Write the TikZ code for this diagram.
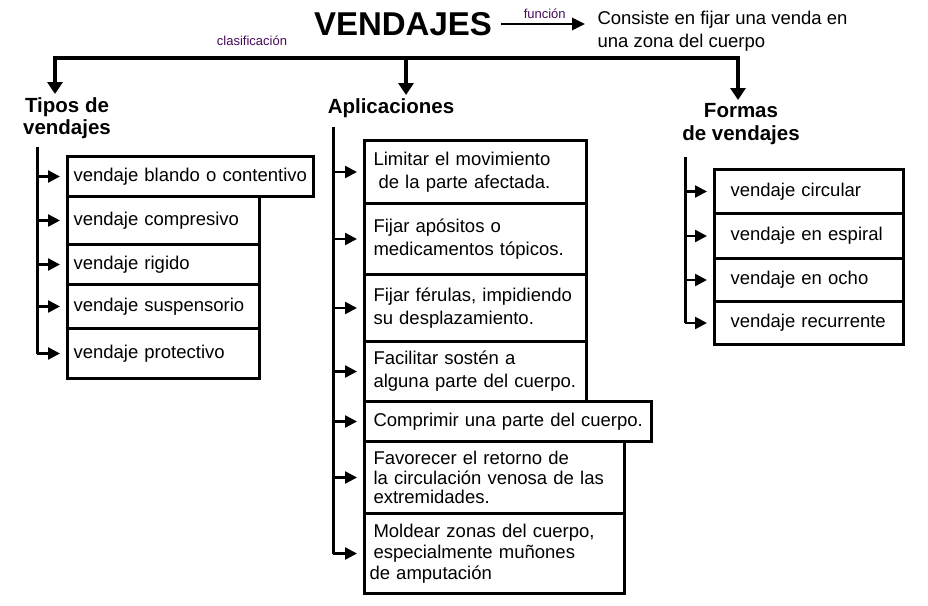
\documentclass[tikz,border=0pt]{standalone}
\usepackage{fontspec}
\setmainfont{Liberation Sans}
\usetikzlibrary{arrows.meta, positioning}
\definecolor{lblpurple}{RGB}{70,10,90}

\begin{document}
\begin{tikzpicture}[x=1pt, y=-1pt,
      every node/.style={font=\fontsize{18.5}{23}\selectfont},
      title/.style={font=\fontsize{33}{40}\selectfont\bfseries},
      head/.style={font=\fontsize{20.5}{22.5}\selectfont\bfseries, align=center, anchor=north},
      tag/.style={font=\fontsize{13}{15}\selectfont, text=lblpurple},
      box/.style={draw, line width=3pt, anchor=north west, align=left, inner ysep=0pt},
      tbox/.style={box, inner xsep=6pt},
      mbox/.style={box, inner xsep=9pt},
      fbox/.style={box, inner xsep=16pt},
      trunk/.style={line width=3pt},
      stub/.style={-{Triangle[length=12pt, width=12pt]}, line width=2.5pt, shorten >=6pt},
      drop/.style={{Triangle[length=12pt, width=15pt]}-{Triangle[length=12pt, width=15pt]}, line width=4pt},
      dropone/.style={-{Triangle[length=12pt, width=15pt]}, line width=4pt},
      arrow/.style={-{Triangle[length=13pt, width=12pt]}, line width=2.5pt}
    ]
    \useasboundingbox (0,0) rectangle (928,605);

    % Nodes
    \node[title] (vend) at (403,24) {VENDAJES};
    \node[anchor=west, align=left] (def) at (594,31) {Consiste en fijar una venda en\\una zona del cuerpo};
    \node[tag] (clas) at (252,41) {clasificación};

    \node[head] (tipos) at (67,94) {Tipos de\\vendajes};
    \node[head] (aplic) at (391,95) {Aplicaciones};
    \node[head] (formas) at (741,100) {Formas\\de vendajes};

    \node[tbox, text width=234pt, minimum height=40pt] (t1) at (66,155) {\mbox{vendaje blando o contentivo}};
    \node[tbox, text width=180pt, minimum height=48pt] (t2) at (66,195) {vendaje compresivo};
    \node[tbox, text width=180pt, minimum height=40pt] (t3) at (66,243) {vendaje rigido};
    \node[tbox, text width=180pt, minimum height=44pt] (t4) at (66,283) {vendaje suspensorio};
    \node[tbox, text width=180pt, minimum height=50pt] (t5) at (66,327) {vendaje protectivo};

    \node[mbox, text width=204pt, minimum height=63pt] (m1) at (363,139) {Limitar el movimiento\\\hspace{5pt}de la parte afectada.};
    \node[mbox, text width=204pt, minimum height=71pt] (m2) at (363,202) {Fijar apósitos o\\medicamentos tópicos.};
    \node[mbox, text width=204pt, minimum height=67pt] (m3) at (363,273) {Fijar férulas, impidiendo\\su desplazamiento.};
    \node[mbox, text width=204pt, minimum height=60pt] (m4) at (363,340) {Facilitar sostén a\\\mbox{alguna parte del cuerpo.}};
    \node[mbox, text width=269pt, minimum height=40pt] (m5) at (363,400) {\mbox{Comprimir una parte del cuerpo.}};
    \node[mbox, text width=242pt, minimum height=72pt, font=\fontsize{18.5}{19.5}\selectfont] (m6) at (363,440) {Favorecer el retorno de\\la circulación venosa de las\\extremidades.};
    \node[mbox, text width=242pt, minimum height=80pt, font=\fontsize{18.5}{21}\selectfont] (m7) at (363,512) {Moldear zonas del cuerpo,\\especialmente muñones\\\hspace{-4pt}de amputación};

    \node[fbox, text width=157pt, minimum height=44pt] (f1) at (713,168) {vendaje circular};
    \node[fbox, text width=157pt, minimum height=45pt] (f2) at (713,212) {vendaje en espiral};
    \node[fbox, text width=157pt, minimum height=43pt] (f3) at (713,257) {vendaje en ocho};
    \node[fbox, text width=157pt, minimum height=43pt] (f4) at (713,300) {\mbox{vendaje recurrente}};

    \coordinate (barL) at (55,58);
    \coordinate (barM) at (406,58);
    \coordinate (barR) at (738,58);
    \coordinate (tbar) at (37,147);
    \coordinate (mbar) at (333,127);
    \coordinate (fbar) at (685,157);

    % Arrows
    \draw[arrow, shorten <=6pt, shorten >=9pt] (vend.east) -- node[tag, above=1pt] {función} (vend.east -| def.west);
    \draw[drop] (barL |- tipos.north) |- (barR) -- (barR |- formas.north);
    \draw[dropone] (barM) -- (barM |- aplic.north);

    \draw[trunk] (tbar) -- (tbar |- t5.west);
    \foreach \n in {t1,t2,t3,t4,t5}
      \draw[stub] (tbar |- \n.west) -- (\n.west);

    \draw[trunk] (mbar) -- (mbar |- m7.west);
    \foreach \n in {m1,m2,m3,m4,m5,m6,m7}
      \draw[stub] (mbar |- \n.west) -- (\n.west);

    \draw[trunk] (fbar) -- (fbar |- f4.west);
    \foreach \n in {f1,f2,f3,f4}
      \draw[stub] (fbar |- \n.west) -- (\n.west);

\end{tikzpicture}
\end{document}
